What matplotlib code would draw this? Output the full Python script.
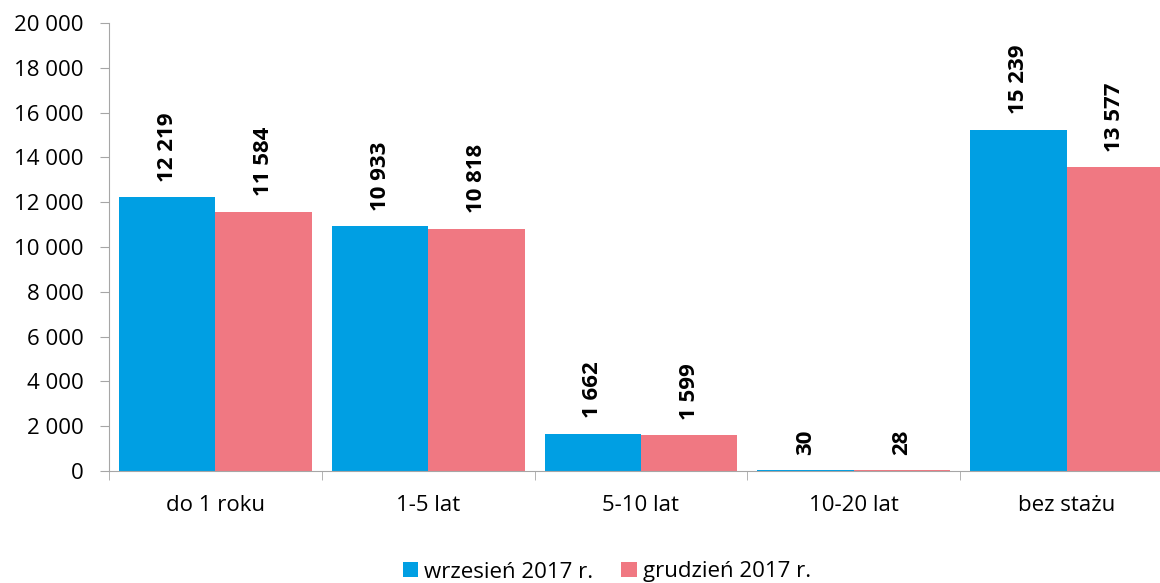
import numpy as np
import matplotlib.pyplot as plt

plt.rcParams['font.family'] = ['Open Sans', 'DejaVu Sans']

categories = ['do 1 roku', '1-5 lat', '5-10 lat', '10-20 lat', 'bez stażu']
wrzesien = [12219, 10933, 1662, 30, 15239]
grudzien = [11584, 10818, 1599, 28, 13577]
series_names = ['wrzesień 2017 r.', 'grudzień 2017 r.']

blue = '#009FE3'
pink = '#F07882'
axis_grey = '#A6A6A6'


def fmt(v):
    return f'{v:,}'.replace(',', ' ')


fig = plt.figure(figsize=(11.6, 5.83), dpi=100)
ax = fig.add_axes([109 / 1160, (583 - 471) / 583, (1173 - 109) / 1160, (471 - 23) / 583])

x = np.arange(len(categories))
w = 0.453
b1 = ax.bar(x - w / 2, wrzesien, w, color=blue, label=series_names[0])
b2 = ax.bar(x + w / 2, grudzien, w, color=pink, label=series_names[1])

for bars, vals in ((b1, wrzesien), (b2, grudzien)):
    for r, v in zip(bars, vals):
        ax.annotate(fmt(v), (r.get_x() + r.get_width() / 2, r.get_height()),
                    xytext=(0, 11), textcoords='offset points',
                    rotation=90, ha='center', va='bottom',
                    fontsize=16, fontweight='bold')

ax.set_xlim(-0.5, len(categories) - 0.5)
ax.set_ylim(0, 20000)
ax.set_yticks(range(0, 20001, 2000))
ax.set_yticklabels([fmt(v) for v in range(0, 20001, 2000)], fontsize=16)

ax.set_xticks(x)
ax.set_xticklabels(categories, fontsize=16)
ax.tick_params(axis='x', length=0, pad=17)
ax.set_xticks(np.arange(-0.5, len(categories), 1), minor=True)
ax.tick_params(axis='x', which='minor', length=6.5, color=axis_grey)
ax.tick_params(axis='y', length=6.5, color=axis_grey, pad=12)

for s in ('top', 'right'):
    ax.spines[s].set_visible(False)
for s in ('left', 'bottom'):
    ax.spines[s].set_color(axis_grey)

fig.legend(loc='center', bbox_to_anchor=(607 / 1160, 1 - 572 / 583), ncol=2, frameon=False,
           fontsize=16, handlelength=0.68, handleheight=0.68, handletextpad=0.3,
           columnspacing=1.25)

fig.savefig('out.png', dpi=100)
